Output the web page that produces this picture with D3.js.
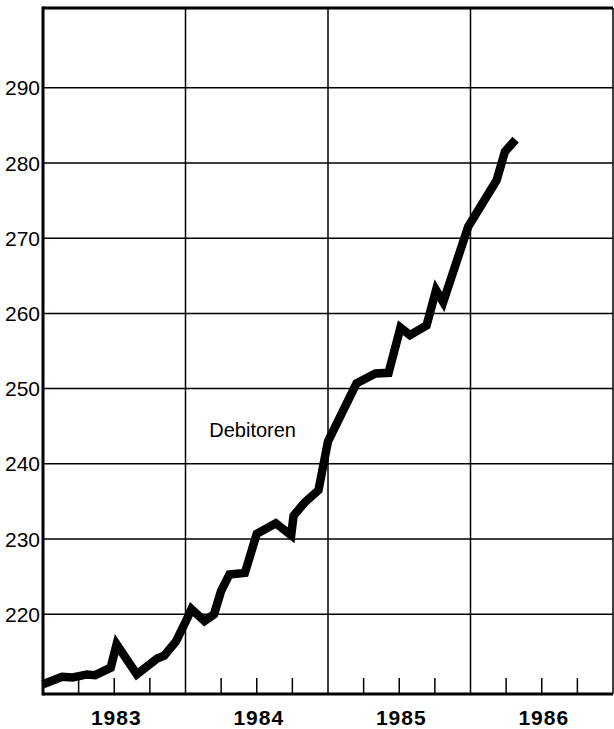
<!DOCTYPE html>
<html>
<head>
<meta charset="utf-8">
<script src="https://cdn.jsdelivr.net/npm/d3@7"></script>
<style>
  body { margin: 0; background: #fff; }
  text { font-family: "Liberation Sans", Arial, sans-serif; fill: #000; }
</style>
</head>
<body>
<div id="wrapper"></div>
<script>
// months counted from January 1983
const months = [0, 1.6, 2.5, 3.7, 4.4, 5.7, 6.2, 7.9, 9.6, 10.2, 11.2, 12.1, 12.5,
  13.6, 14.4, 15.0, 15.7, 17.0, 18.0, 19.6, 20.9, 21.1, 22.0, 23.2, 24.0,
  26.4, 28.0, 29.1, 30.1, 30.9, 32.3, 33.1, 33.7, 35.8, 38.2, 38.9, 39.8]
const debitoren = [210.7, 211.7, 211.6, 212.0, 211.9, 212.9, 216.0, 212.0, 214.1, 214.5, 216.4, 219.3, 220.7,
  219.1, 220.0, 223.1, 225.3, 225.5, 230.7, 232.1, 230.5, 233.1, 234.8, 236.5, 243.0,
  250.7, 252.0, 252.1, 258.1, 257.1, 258.4, 263.1, 261.5, 271.5, 277.7, 281.5, 283.1]
const years = ["1983", "1984", "1985", "1986"]
const yTicks = [220, 230, 240, 250, 260, 270, 280, 290]
const seriesLabel = "Debitoren"

function drawChart() {
  const dataset = months.map((m, i) => ({ month: m, value: debitoren[i] }))
  const xAccessor = d => d.month
  const yAccessor = d => d.value

  // 1. dimensions
  const dimensions = {
    width: 614,
    height: 729,
    margin: { top: 8, right: 1, bottom: 35, left: 43 },
  }
  dimensions.boundedWidth = dimensions.width - dimensions.margin.left - dimensions.margin.right
  dimensions.boundedHeight = dimensions.height - dimensions.margin.top - dimensions.margin.bottom

  // 2. canvas
  const wrapper = d3.select("#wrapper")
    .append("svg")
      .attr("width", dimensions.width)
      .attr("height", dimensions.height)

  const bounds = wrapper.append("g")
      .attr("transform", `translate(${dimensions.margin.left},${dimensions.margin.top})`)

  // 3. scales
  const xScale = d3.scaleLinear()
    .domain([0, 48])
    .range([0, dimensions.boundedWidth])

  const yScale = d3.scaleLinear()
    .domain([209.4, 300.6])
    .range([dimensions.boundedHeight, 0])

  // 4. grid
  bounds.append("g")
    .selectAll("line")
    .data(yTicks)
    .join("line")
      .attr("x1", 0)
      .attr("x2", dimensions.boundedWidth)
      .attr("y1", d => yScale(d))
      .attr("y2", d => yScale(d))
      .attr("stroke", "#000")
      .attr("stroke-width", 1.5)

  // year boundaries
  bounds.append("g")
    .selectAll("line")
    .data([12, 24, 36])
    .join("line")
      .attr("x1", d => xScale(d))
      .attr("x2", d => xScale(d))
      .attr("y1", 0)
      .attr("y2", dimensions.boundedHeight)
      .attr("stroke", "#000")
      .attr("stroke-width", 1.5)

  // quarter ticks
  const quarters = d3.range(3, 48, 3).filter(m => m % 12 !== 0)
  bounds.append("g")
    .selectAll("line")
    .data(quarters)
    .join("line")
      .attr("x1", d => xScale(d))
      .attr("x2", d => xScale(d))
      .attr("y1", dimensions.boundedHeight - 16)
      .attr("y2", dimensions.boundedHeight)
      .attr("stroke", "#000")
      .attr("stroke-width", 1.5)

  // frame
  const frame = bounds.append("g").attr("stroke", "#000")
  frame.append("line")
      .attr("x1", 0).attr("x2", 0)
      .attr("y1", -1.5).attr("y2", dimensions.boundedHeight + 1.5)
      .attr("stroke-width", 3)
  frame.append("line")
      .attr("x1", 0).attr("x2", dimensions.boundedWidth)
      .attr("y1", 0).attr("y2", 0)
      .attr("stroke-width", 3)
  frame.append("line")
      .attr("x1", 0).attr("x2", dimensions.boundedWidth)
      .attr("y1", dimensions.boundedHeight).attr("y2", dimensions.boundedHeight)
      .attr("stroke-width", 3)
  frame.append("line")
      .attr("x1", dimensions.boundedWidth).attr("x2", dimensions.boundedWidth)
      .attr("y1", 0).attr("y2", dimensions.boundedHeight)
      .attr("stroke-width", 1.5)

  // 5. data
  const lineGenerator = d3.line()
    .x(d => xScale(xAccessor(d)))
    .y(d => yScale(yAccessor(d)))

  bounds.append("path")
      .datum(dataset)
      .attr("d", lineGenerator)
      .attr("fill", "none")
      .attr("stroke", "#000")
      .attr("stroke-width", 8.5)
      .attr("stroke-linejoin", "miter")
      .attr("stroke-miterlimit", 3)

  bounds.append("text")
      .attr("x", xScale(14))
      .attr("y", yScale(243.6))
      .style("font-size", "20px")
      .text(seriesLabel)

  // 6. labels
  bounds.append("g")
    .selectAll("text")
    .data(yTicks)
    .join("text")
      .attr("x", -3)
      .attr("y", d => yScale(d))
      .attr("dy", "0.36em")
      .attr("text-anchor", "end")
      .style("font-size", "21px")
      .text(d => d)

  bounds.append("g")
    .selectAll("text")
    .data(years)
    .join("text")
      .attr("x", (d, i) => xScale(i * 12 + 6) + 2)
      .attr("y", dimensions.boundedHeight + 31)
      .attr("text-anchor", "middle")
      .style("font-size", "21px")
      .style("letter-spacing", "1px")
      .style("font-weight", "bold")
      .text(d => d)
}
drawChart()
</script>
</body>
</html>
